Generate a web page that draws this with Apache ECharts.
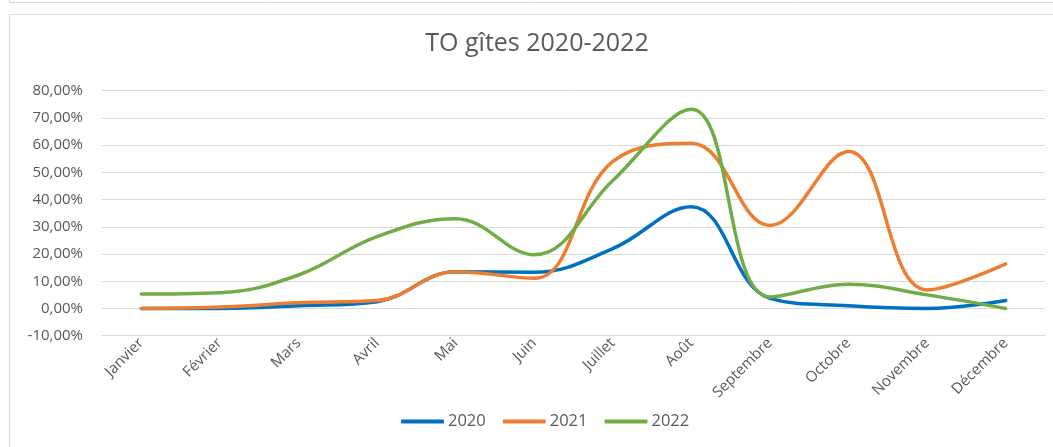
<!DOCTYPE html>
<html>
<head>
<meta charset="utf-8">
<script src="https://cdn.jsdelivr.net/npm/echarts@6/dist/echarts.min.js"></script>
<style>
html, body { margin: 0; padding: 0; background: #fff; }
#chart { width: 1053px; height: 447px; }
</style>
</head>
<body>
<div id="chart"></div>
<script>
const months = ['Janvier', 'Février', 'Mars', 'Avril', 'Mai', 'Juin', 'Juillet', 'Août', 'Septembre', 'Octobre', 'Novembre', 'Décembre']
const to2020 = [0, 0, 1, 2.5, 13.5, 13.3, 22, 37.4, 3.7, 1, 0, 2.9]
const to2021 = [0, 0.5, 2.1, 2.9, 13.5, 11.1, 54, 60.7, 30.5, 57.7, 6.8, 16.4]
const to2022 = [5.3, 5.8, 12.3, 26.4, 33, 19.7, 47, 73.2, 4.2, 8.9, 5, 0]
const yTicks = { min: -10, max: 80, step: 10 }

const txt = '#595959'
const font = '"Open Sans", "Noto Sans", sans-serif'

function serie(name, data, color) {
	return {
		name: name,
		type: 'line',
		data: data,
		smooth: 0.4,
		symbol: 'none',
		lineStyle: { width: 3.5, color: color, cap: 'round' },
		itemStyle: { color: color },
	}
}

const chart = echarts.init(document.getElementById('chart'), null, { renderer: 'canvas' })
chart.setOption({
	animation: false,
	textStyle: { fontFamily: font },
	graphic: [
		// bord du graphique précédent + cadre
		{ type: 'polyline', shape: { points: [[9.5, 0], [9.5, 2.5], [1053, 2.5]] }, style: { fill: 'none', stroke: '#d9d9d9', lineWidth: 1 } },
		{ type: 'polyline', shape: { points: [[9.5, 447], [9.5, 14.5], [1053, 14.5]] }, style: { fill: 'none', stroke: '#d9d9d9', lineWidth: 1 } },
		{
			type: 'text', x: 537, y: 31,
			style: { text: 'TO gîtes 2020-2022', font: '25px "Open Sans", sans-serif', fill: txt, align: 'center' },
		},
	],
	legend: {
		bottom: 12,
		left: 396,
		itemWidth: 43,
		itemHeight: 4,
		itemGap: 17,
		icon: 'roundRect',
		textStyle: { fontFamily: font, fontSize: 16.5, color: txt, padding: [0, 0, 0, -1] },
		data: ['2020', '2021', '2022'],
	},
	grid: { left: 102, right: 8, top: 90.7, bottom: 111.3, containLabel: false },
	xAxis: {
		type: 'category',
		data: months,
		boundaryGap: true,
		axisLine: { show: false },
		axisTick: { show: false },
		axisLabel: { rotate: 45, margin: 5, fontSize: 15, color: txt, fontFamily: font, interval: 0 },
	},
	yAxis: {
		type: 'value',
		min: yTicks.min,
		max: yTicks.max,
		interval: yTicks.step,
		axisLine: { show: false },
		axisTick: { show: false },
		splitLine: { lineStyle: { color: '#d9d9d9', width: 1 } },
		axisLabel: {
			margin: 19,
			fontSize: 15,
			color: txt,
			fontFamily: font,
			formatter: (v) => v.toFixed(2).replace('.', ',') + '%',
		},
	},
	series: [
		serie('2020', to2020, '#0070C0'),
		serie('2021', to2021, '#ED7D31'),
		serie('2022', to2022, '#70AD47'),
	],
})
</script>
</body>
</html>
